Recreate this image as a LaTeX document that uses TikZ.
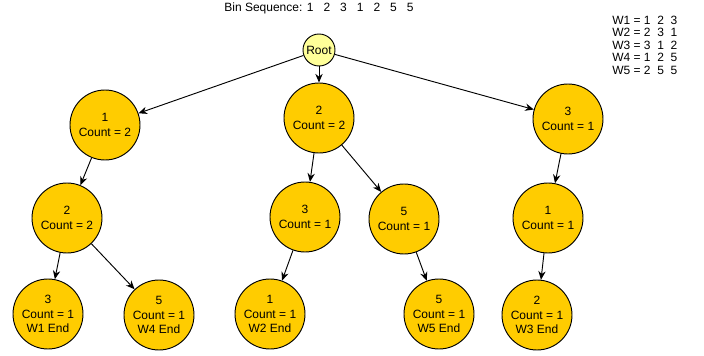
\documentclass[tikz,border=0pt]{standalone}
\usepackage{fontspec}
\setmainfont{Liberation Sans}
\usetikzlibrary{arrows.meta}
\definecolor{binfill}{HTML}{FFCC00}
\definecolor{rootfill}{HTML}{FFFF99}
\begin{document}
\begin{tikzpicture}[x=0.75pt,y=-0.75pt,
  bin/.style={circle,draw=black,fill=binfill,line width=0.7pt,minimum size=52.5pt,
    inner sep=0pt,align=center,font=\fontsize{9}{10.8}\selectfont},
  rootnode/.style={circle,draw=black,fill=rootfill,line width=0.7pt,minimum size=24pt,
    inner sep=0pt,font=\fontsize{9}{10.8}\selectfont},
  link/.style={-{Stealth[length=6.5pt,width=5.5pt]},line width=0.7pt},
  plain/.style={inner sep=0pt,font=\fontsize{9}{10.8}\selectfont}]
\useasboundingbox (0,0) rectangle (704,356);

%标题:箱序列
\node[plain] (title) at (319,8) {Bin Sequence: 1~~~2~~~3~~~1~~~2~~~5~~~5};
%右上角的窗口列表
\foreach \i/\seq in {1/1~~2~~3,2/2~~3~~1,3/3~~1~~2,4/1~~2~~5,5/2~~5~~5}
  \node[plain,anchor=west] (w\i) at (612,{20+12.6*(\i-1)}) {W\i{} = \seq};

%根结点
\node[rootnode] (root) at (319,50) {Root};
%第一层
\node[bin] (a1) at (105,125) {1\\Count = 2};
\node[bin] (a2) at (319,118) {2\\Count = 2};
\node[bin] (a3) at (568,119) {3\\Count = 1};
%第二层
\node[bin] (b1) at (67,218) {2\\Count = 2};
\node[bin] (b2) at (305,217) {3\\Count = 1};
\node[bin] (b3) at (404,219) {5\\Count = 1};
\node[bin] (b4) at (548,218) {1\\Count = 1};
%第三层:窗口结束
\node[bin] (c1) at (48,314) {3\\Count = 1\\W1 End};
\node[bin] (c2) at (159,315) {5\\Count = 1\\W4 End};
\node[bin] (c3) at (270,314) {1\\Count = 1\\W2 End};
\node[bin] (c4) at (439,314) {5\\Count = 1\\W5 End};
\node[bin] (c5) at (537,315) {2\\Count = 1\\W3 End};

%连线
\draw[link] (root) -- (a1);
\draw[link] (root) -- (a2);
\draw[link] (root) -- (a3);
\draw[link] (a1) -- (b1);
\draw[link] (a2) -- (b2);
\draw[link] (a2) -- (b3);
\draw[link] (a3) -- (b4);
\draw[link] (b1) -- (c1);
\draw[link] (b1) -- (c2);
\draw[link] (b2) -- (c3);
\draw[link] (b3) -- (c4);
\draw[link] (b4) -- (c5);

\end{tikzpicture}
\end{document}
